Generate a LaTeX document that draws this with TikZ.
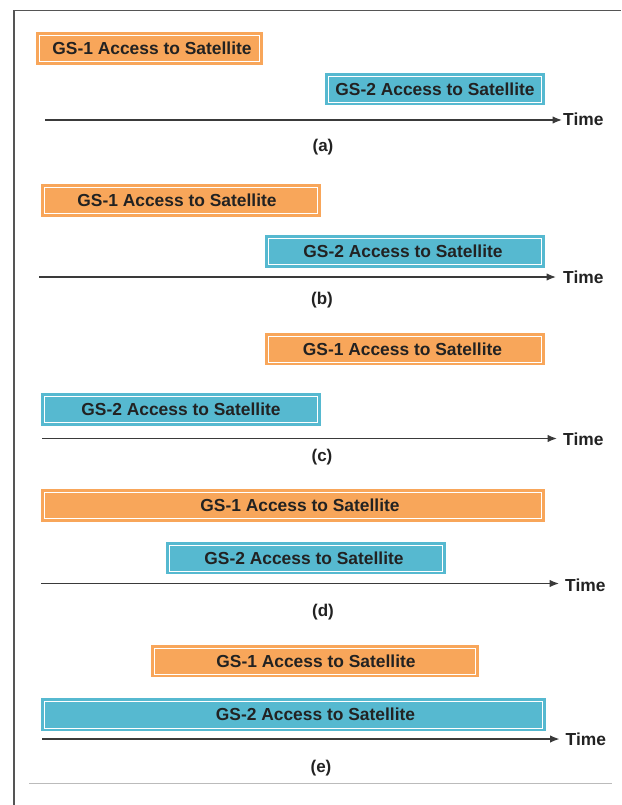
\documentclass[tikz,border=0pt]{standalone}
\usepackage{fontspec}
\setmainfont{Liberation Sans}
\usetikzlibrary{arrows.meta}
\definecolor{gsorange}{HTML}{F8A65A}
\definecolor{gsblue}{HTML}{56B9D0}
\definecolor{txt}{HTML}{222222}
\definecolor{axisgray}{HTML}{3A3A3A}
\definecolor{framegray}{HTML}{555555}
\definecolor{rulegray}{HTML}{BBBBBB}
\newcommand{\shft}[1]{\hspace*{#1}}
\begin{document}
\begin{tikzpicture}[x=1pt,y=-1pt,
  acc/.style={fill=#1, draw=#1, double=white, double distance=0.9pt,
    line width=3pt, text=txt, font=\bfseries\fontsize{17.4}{20}\selectfont,
    inner sep=0pt, minimum height=26pt},
  axisline/.style={draw=axisgray, line width=1.3pt, -{Latex[length=9.5pt,width=7.5pt]}},
  timelbl/.style={text=txt, font=\bfseries\fontsize{17.4}{20}\selectfont, inner sep=0pt, anchor=west},
  sublbl/.style={text=txt, font=\bfseries\fontsize{17}{20}\selectfont, inner sep=0pt}]
\useasboundingbox (0,0) rectangle (621,805);
% frame
\draw[framegray, line width=1.5pt] (14,805) -- (14,10.5) -- (621,10.5);
\draw[rulegray, line width=1pt] (29,783) -- (612,783);

% (a)
\node[acc=gsorange, minimum width=220pt] (ga1) at (149.5,48.5) {\shft{5pt}GS-1 Access to Satellite};
\node[acc=gsblue, minimum width=213pt] (ga2) at (435,89) {GS-2 Access to Satellite};
\coordinate (xa0) at (45,120);
\coordinate (xa1) at (562,120);
\draw[axisline] (xa0) -- (xa1);
\node[timelbl] (ta) at (563,119) {Time};
\node[sublbl] (la) at (323,147) {(a)};

% (b)
\node[acc=gsorange, minimum width=273pt] (gb1) at (181,200.5) {\shft{-8pt}GS-1 Access to Satellite};
\node[acc=gsblue, minimum width=273pt] (gb2) at (405,251.5) {\shft{-4pt}GS-2 Access to Satellite};
\coordinate (xb0) at (39,277);
\coordinate (xb1) at (556,277);
\draw[axisline] (xb0) -- (xb1);
\node[timelbl] (tb) at (563,277) {Time};
\node[sublbl] (lb) at (322,300) {(b)};

% (c)
\node[acc=gsorange, minimum width=273pt] (gc1) at (405,349) {\shft{-5pt}GS-1 Access to Satellite};
\node[acc=gsblue, minimum width=273pt] (gc2) at (181,409.5) {GS-2 Access to Satellite};
\coordinate (xc0) at (42,438.5);
\coordinate (xc1) at (557,438.5);
\draw[axisline] (xc0) -- (xc1);
\node[timelbl] (tc) at (563,439) {Time};
\node[sublbl] (lc) at (322,457) {(c)};

% (d)
\node[acc=gsorange, minimum width=497pt] (gd1) at (293,505.5) {\shft{14pt}GS-1 Access to Satellite};
\node[acc=gsblue, minimum width=273pt] (gd2) at (306,558) {\shft{-4pt}GS-2 Access to Satellite};
\coordinate (xd0) at (41,583.5);
\coordinate (xd1) at (559,583.5);
\draw[axisline] (xd0) -- (xd1);
\node[timelbl] (td) at (565,585) {Time};
\node[sublbl] (ld) at (323,612) {(d)};

% (e)
\node[acc=gsorange, minimum width=321pt] (ge1) at (315,661) {\shft{2pt}GS-1 Access to Satellite};
\node[acc=gsblue, minimum width=498pt, minimum height=27pt] (ge2) at (293.5,714.5) {\shft{44pt}GS-2 Access to Satellite};
\coordinate (xe0) at (42,739);
\coordinate (xe1) at (559.5,739);
\draw[axisline] (xe0) -- (xe1);
\node[timelbl] (te) at (565.5,739) {Time};
\node[sublbl] (le) at (321,768) {(e)};
\end{tikzpicture}
\end{document}
